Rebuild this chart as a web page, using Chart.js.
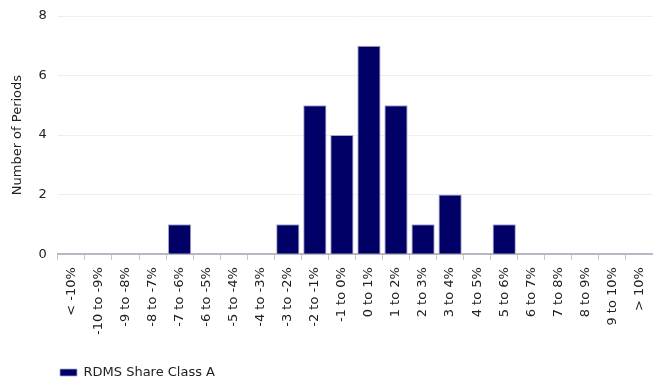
<!DOCTYPE html>
<html><head><meta charset="utf-8">
<script src="https://cdn.jsdelivr.net/npm/chart.js@4/dist/chart.umd.min.js"></script>
<style>html,body{margin:0;padding:0;background:#fff}#wrap{width:653px;height:381px}</style>
</head><body><div id="wrap"><canvas id="c" width="653" height="381"></canvas></div>
<script>
const categories = ["< -10%","-10 to -9%","-9 to -8%","-8 to -7%","-7 to -6%","-6 to -5%","-5 to -4%","-4 to -3%","-3 to -2%","-2 to -1%","-1 to 0%","0 to 1%","1 to 2%","2 to 3%","3 to 4%","4 to 5%","5 to 6%","6 to 7%","7 to 8%","8 to 9%","9 to 10%","> 10%"];
const seriesName = "RDMS Share Class A";
const periods = [0,0,0,0,1,0,0,0,1,5,4,7,5,1,2,0,1,0,0,0,0,0];
const yTicks = [0,2,4,6,8];
Chart.defaults.font.family = "DejaVu Sans, Verdana, sans-serif";
Chart.defaults.color = "#222";
const legendShift = {
  id: 'legendShift',
  afterLayout(chart) {
    const lg = chart.legend;
    if (lg) { const d = 57 - lg.left; lg.left += d; lg.right += d; lg.top += 8; lg.bottom += 8; }
  }
};
new Chart(document.getElementById('c'), {
  type: 'bar',
  data: { labels: categories, datasets: [{ label: seriesName, data: periods, backgroundColor: '#000066', borderColor: '#a8a8c8', borderWidth: {left:1,right:1,top:1,bottom:0}, barPercentage: 0.86, categoryPercentage: 1.0 }] },
  plugins: [legendShift],
  options: {
    responsive: false, animation: false,
    layout: { padding: { left: 10, right: -9, top: 16, bottom: 0 } },
    plugins: {
      legend: { position: 'bottom', align: 'start', labels: { boxWidth: 17, boxHeight: 7, font: { size: 13 }, padding: 3 } },
      tooltip: { enabled: false }
    },
    scales: {
      x: {
        grid: { display: true, drawOnChartArea: false, drawTicks: true, tickLength: 6, color: '#c8c8c8' },
        border: { color: '#b8b8c4', width: 2 },
        ticks: { minRotation: 90, maxRotation: 90, autoSkip: false, font: { size: 13 }, padding: 7 },
        afterFit: (s) => { s.height += 13; s.paddingRight = 0; s.paddingLeft = 0; }
      },
      y: {
        min: 0, max: 8,
        afterBuildTicks: (a) => { a.ticks = yTicks.map(v => ({ value: v })); },
        afterFit: (s) => { s.paddingTop = 0; },
        grid: { color: '#eeeeee', drawTicks: false },
        border: { display: false },
        ticks: { font: { size: 13 }, padding: 11 },
        title: { display: true, text: 'Number of Periods', font: { size: 13 }, padding: { top: 0, bottom: 2 } }
      }
    }
  }
});
</script></body></html>
